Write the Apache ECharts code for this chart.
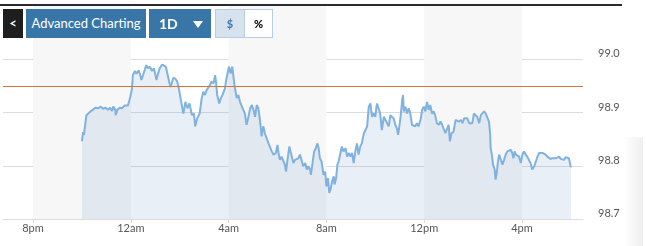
<!DOCTYPE html>
<html>
<head>
<meta charset="utf-8">
<script src="https://cdn.jsdelivr.net/npm/echarts@6/dist/echarts.min.js"></script>
<style>
  html, body { margin:0; padding:0; background:#fff; }
  #wrap { position:relative; width:646px; height:246px; overflow:hidden; font-family:Lato, 'Open Sans', sans-serif; }
  #c { position:absolute; left:0; top:0; width:646px; height:246px; }
  .bar { position:absolute; left:0; top:4px; width:622px; height:2px; background:#2a2b30; }
  .btn { position:absolute; top:9px; height:29px; line-height:29px; text-align:center; box-sizing:border-box; }
  .back { left:3px; width:20px; background:#1e1e1e; color:#fff; font-weight:bold; font-size:13px; }
  .adv { left:26px; width:120px; background:#3876a8; color:#fff; font-size:13px; }
  .oned { left:149px; width:62px; background:#3876a8; color:#fff; font-size:14px; font-weight:bold; text-align:left; }
  .oned span.t { position:absolute; left:10px; }
  .oned span.tri { position:absolute; left:44px; top:12px; width:0; height:0; border-left:5px solid transparent; border-right:5px solid transparent; border-top:7px solid #fff; }
  .dol { left:215px; width:30px; background:#d6e3ee; border:1px solid #b7cde0; color:#3a78a8; font-weight:bold; font-size:11px; line-height:27px; }
  .pct { left:245px; width:28px; background:#fff; border:1px solid #b7cde0; border-left:none; color:#000; font-weight:900; font-size:11px; line-height:27px; }
  .shade { position:absolute; left:623px; top:137px; width:20px; height:109px; background:linear-gradient(to right, rgba(245,245,245,0), #efefef); }
</style>
</head>
<body>
<div id="wrap">
  <div id="c"></div>
  <div class="bar"></div>
  <div class="btn back">&lt;</div>
  <div class="btn adv">Advanced Charting</div>
  <div class="btn oned"><span class="t">1D</span><span class="tri"></span></div>
  <div class="btn dol">$</div>
  <div class="btn pct">%</div>
  <div class="shade"></div>
</div>
<script>
// minutes since 8pm
const times = [
120,123,125,131,135,141,147,153,160,166,172,178,184,189,194,197,202,203,207,213,218,225,233,236,239,243,245,250,254,259,263,266,270,278,282,287,292,297,303,307,311,317,321,326,330,335,338,344,349,354,358,362,369,374,379,384,390,395,398,403,409,
414,418,422,426,430,434,438,443,447,449,452,457,461,465,471,474,477,481,485,489,492,495,500,504,508,512,516,520,524,528,533,537,541,545,549,553,557,561,565,569,573,578,582,586,590,596,600,603,606,610,614,618,621,624,629,632,636,639,643,647,651,655,659,663,668,672,676,680,682,686,690,694,698,701,704,708,
713,717,720,724,727,730,734,738,740,744,747,750,754,758,762,767,771,775,779,783,787,791,795,799,803,807,812,816,820,824,828,832,836,840,844,848,852,856,861,865,869,873,877,881,885,889,893,896,899,902,906,908,910,914,918,922,926,930,934,938,942,946,951,955,959,963,967,971,975,979,983,987,991,996,1000,1004,1008,1012,
1020,1023,1027,1032,1037,1041,1045,1050,1054,1058,1062,1066,1070,1074,1078,1082,1086,1090,1095,1099,1103,1107,1111,1115,1119,1122,1123,1126,1129,1133,1135,1138,1141,1144,1148,1152,1156,1160,1164,1168,1172,1176,1179,1182,1185,1189,1193,1197,1201,1205,1209,1213,1217,1221,1225,1230,1234,1238,1242,1246,1250,1254,1258,1262,1266,1270,1275,1279,1283,1287,1291,1295,1299,1303,1307,1311,1315,1318,1320
];
const prices = [
98.846,98.863,98.858,98.895,98.898,98.902,98.905,98.909,98.908,98.911,98.907,98.909,98.905,98.909,98.903,98.911,98.905,98.895,98.905,98.909,98.908,98.913,98.913,98.915,98.930,98.945,98.970,98.978,98.973,98.979,98.971,98.961,98.970,98.989,98.983,98.986,98.978,98.983,98.961,98.973,98.983,98.990,98.992,98.986,98.983,98.955,98.948,98.965,98.964,98.958,98.945,98.927,98.898,98.920,98.908,98.917,98.895,98.898,98.874,98.889,98.898,
98.927,98.939,98.933,98.942,98.945,98.951,98.958,98.955,98.970,98.958,98.933,98.917,98.927,98.933,98.945,98.961,98.958,98.986,98.973,98.986,98.967,98.948,98.927,98.933,98.920,98.923,98.905,98.898,98.877,98.889,98.908,98.914,98.905,98.892,98.914,98.908,98.886,98.855,98.874,98.861,98.858,98.842,98.839,98.827,98.821,98.824,98.839,98.821,98.811,98.817,98.814,98.802,98.789,98.808,98.836,98.827,98.814,98.805,98.811,98.808,98.814,98.821,98.811,98.799,98.805,98.793,98.799,98.793,98.783,98.805,98.827,98.833,98.842,98.833,98.814,98.808,
98.783,98.789,98.761,98.777,98.749,98.755,98.771,98.780,98.765,98.777,98.802,98.808,98.805,98.836,98.827,98.833,98.817,98.824,98.817,98.824,98.805,98.827,98.842,98.821,98.836,98.842,98.861,98.858,98.874,98.911,98.917,98.892,98.898,98.892,98.917,98.908,98.898,98.867,98.892,98.886,98.889,98.874,98.895,98.898,98.889,98.877,98.870,98.858,98.874,98.892,98.923,98.933,98.902,98.911,98.898,98.908,98.898,98.877,98.880,98.874,98.880,98.874,98.886,98.905,98.911,98.902,98.920,98.905,98.914,98.898,98.902,98.895,98.880,98.877,98.883,98.877,98.880,98.861,
98.877,98.846,98.861,98.864,98.886,98.889,98.883,98.886,98.880,98.889,98.886,98.889,98.880,98.883,98.880,98.898,98.895,98.892,98.880,98.895,98.898,98.902,98.898,98.898,98.883,98.858,98.833,98.821,98.802,98.793,98.774,98.786,98.808,98.821,98.824,98.802,98.811,98.821,98.827,98.830,98.830,98.824,98.814,98.827,98.821,98.824,98.817,98.805,98.821,98.827,98.821,98.817,98.814,98.805,98.793,98.799,98.808,98.817,98.824,98.821,98.824,98.821,98.821,98.817,98.814,98.813,98.814,98.813,98.814,98.813,98.817,98.813,98.814,98.811,98.816,98.813,98.814,98.813,98.797
];
const tickMinutes = [0, 240, 480, 720, 960, 1200];
const tickLabels = ['8pm', '12am', '4am', '8am', '12pm', '4pm'];
const shadedBands = [[0, 240], [480, 720], [960, 1200]];
const prevClose = 98.951;

const n = Math.min(times.length, prices.length);
const seriesData = [];
for (let i = 0; i < n; i++) seriesData.push([times[i], prices[i]]);

const chart = echarts.init(document.getElementById('c'), null, {renderer: 'canvas'});
chart.setOption({
  animation: false,
  grid: {left: 3, right: 63, top: 6, bottom: 27},
  xAxis: {
    type: 'value', min: -73.6, max: 1349.7,
    splitLine: {show: false},
    axisLine: {show: true, lineStyle: {color: '#dcdcdc'}},
    axisTick: {show: true, customValues: tickMinutes, length: 4, lineStyle: {color: '#dcdcdc'}},
    axisLabel: {
      customValues: tickMinutes,
      formatter: v => { const k = tickMinutes.indexOf(Math.round(v)); return k >= 0 ? tickLabels[k] : ''; },
      color: '#555', fontSize: 11, fontFamily: 'Lato', margin: 4
    }
  },
  yAxis: {
    type: 'value', position: 'right', min: 98.7, max: 99.1, interval: 0.1,
    axisLine: {show: false}, axisTick: {show: false},
    splitLine: {show: true, showMaxLine: false, lineStyle: {color: '#dcdcdc', width: 1}},
    axisLabel: {
      formatter: v => (v > 99.05 ? '' : v.toFixed(1)),
      color: '#555', fontSize: 11, fontFamily: 'Lato', margin: 15, verticalAlign: 'bottom'
    }
  },
  series: [
    {
      type: 'line', data: seriesData, z: 1, showSymbol: false, silent: true,
      lineStyle: {opacity: 0, width: 0},
      markArea: {
        silent: true,
        itemStyle: {color: '#f7f7f7'},
        data: shadedBands.map(b => [{xAxis: b[0]}, {xAxis: b[1]}])
      }
    },
    {
      type: 'line', data: seriesData, z: 3, showSymbol: false,
      lineStyle: {color: '#80b2e0', width: 2},
      areaStyle: {color: 'rgba(90,145,190,0.2)', origin: 'start'},
      markLine: {
        silent: true, symbol: 'none', label: {show: false},
        lineStyle: {color: '#d4763a', width: 1, type: 'solid'},
        data: [{yAxis: prevClose}]
      }
    }
  ]
});
</script>
</body>
</html>
